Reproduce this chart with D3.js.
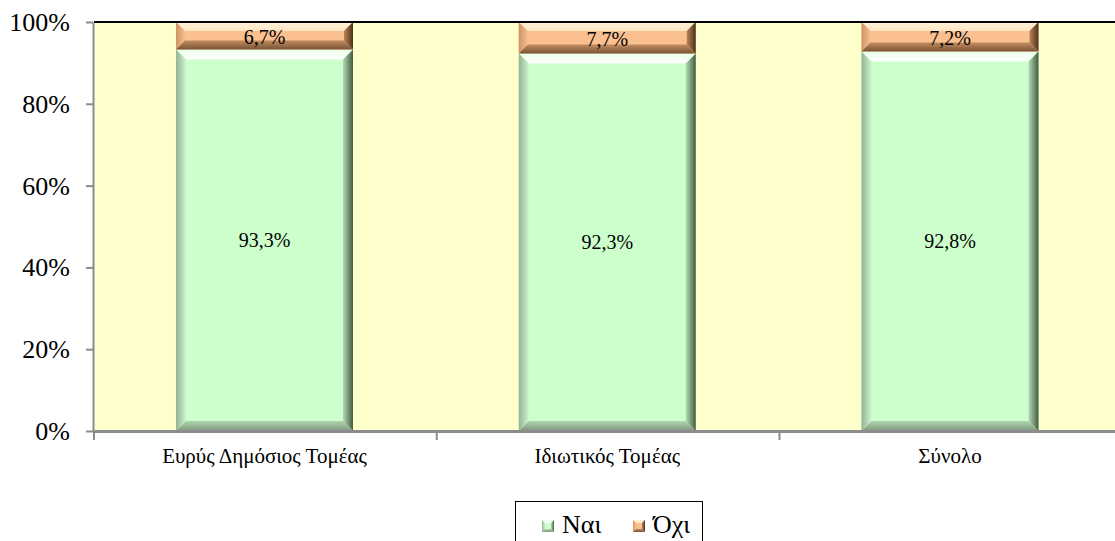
<!DOCTYPE html>
<html><head><meta charset="utf-8">
<script src="https://cdn.jsdelivr.net/npm/d3@7"></script>
<style>body{margin:0;background:#fff}svg{display:block}</style>
</head><body><svg id="c" width="1115" height="541"></svg>
<script>
const categories = ["Ευρύς Δημόσιος Τομέας", "Ιδιωτικός Τομέας", "Σύνολο"];
const nai = [93.3, 92.3, 92.8];
const oxi = [6.7, 7.7, 7.2];
const yTicks = [0, 20, 40, 60, 80, 100];
const seriesNames = ["Ναι", "Όχι"];

const FONT = "'Liberation Serif', 'Times New Roman', serif";
const svg = d3.select("#c");
const W = 1115;
const x = d3.scaleBand().domain(categories).range([94, 1120.5]).paddingInner(0.4836).paddingOuter(0.2392);
const y = d3.scaleLinear().domain([0, 100]).range([431, 22]);

const defs = svg.append("defs");
function lg(id, stops, horiz) {
  const g = defs.append("linearGradient").attr("id", id)
    .attr("x1", 0).attr("y1", 0).attr("x2", horiz ? 1 : 0).attr("y2", horiz ? 0 : 1);
  stops.forEach(s => g.append("stop").attr("offset", s[0]).attr("stop-color", s[1]));
}
const pal = {
  nai: {face: "#CCFFCC", top: ["#ffffff", "#eaffea"], left: ["#94b294", "#cdf5cd"], right: ["#b4dcb4", "#415a41"], bottom: ["#b0d4b0", "#7f987f"]},
  oxi: {face: "#FAC090", top: ["#ffe4c2", "#fff2da"], left: ["#cf9466", "#f7be8e"], right: ["#b98456", "#4d301b"], bottom: ["#c28c60", "#7a5436"]}
};
Object.entries(pal).forEach(([k, p]) => {
  lg(k + "-top", [[0, p.top[1]], [1, p.top[0]]], false);
  lg(k + "-left", [[0, p.left[0]], [1, p.left[1]]], true);
  lg(k + "-right", [[0, p.right[0]], [1, p.right[1]]], true);
  lg(k + "-bottom", [[0, p.bottom[0]], [1, p.bottom[1]]], false);
});

// plot background
svg.append("rect").attr("x", 94).attr("y", y(100)).attr("width", W - 94).attr("height", y(0) - y(100)).attr("fill", "#FFFFCC");

function bevel(g, key, x0, y0, w, h, bsz) {
  const b = Math.min(bsz, h / 3);
  const x1 = x0 + w, y1 = y0 + h;
  g.append("rect").attr("x", x0).attr("y", y0).attr("width", w).attr("height", h).attr("fill", pal[key].face);
  const poly = (pts, fill) => g.append("polygon").attr("points", pts.map(p => p.join(",")).join(" ")).attr("fill", fill);
  poly([[x0, y0], [x1, y0], [x1 - b, y0 + b], [x0 + b, y0 + b]], `url(#${key}-top)`);
  poly([[x0, y0], [x0 + b, y0 + b], [x0 + b, y1 - b], [x0, y1]], `url(#${key}-left)`);
  poly([[x1, y0], [x1, y1], [x1 - b, y1 - b], [x1 - b, y0 + b]], `url(#${key}-right)`);
  poly([[x0, y1], [x0 + b, y1 - b], [x1 - b, y1 - b], [x1, y1]], `url(#${key}-bottom)`);
}
const fmt = v => d3.format(".1f")(v).replace(".", ",") + "%";

const bars = svg.append("g");
categories.forEach((c, i) => {
  const bx = x(c), bw = x.bandwidth();
  bevel(bars, "nai", bx, y(nai[i]), bw, y(0) - y(nai[i]), 10);
  bevel(bars, "oxi", bx, y(100), bw, y(nai[i]) - y(100), 9);
  bars.append("text").attr("x", bx + bw / 2).attr("y", (y(nai[i]) + y(0)) / 2 + 7)
    .attr("text-anchor", "middle").attr("font-size", 20).style("font-family", FONT).attr("fill", "#000").text(fmt(nai[i]));
  bars.append("text").attr("x", bx + bw / 2).attr("y", (y(100) + y(nai[i])) / 2 + 8)
    .attr("text-anchor", "middle").attr("font-size", 20).style("font-family", FONT).attr("fill", "#000").text(fmt(oxi[i]));
});

// top border
svg.append("line").attr("x1", 94).attr("x2", W).attr("y1", y(100)).attr("y2", y(100)).attr("stroke", "#000").attr("stroke-width", 2);

// y axis
const yAx = svg.append("g").attr("transform", "translate(93,0)")
  .call(d3.axisLeft(y).tickValues(yTicks).tickSize(7).tickSizeOuter(0).tickFormat(d => d + "%"));
yAx.select(".domain").attr("stroke", "#8c8c8c").attr("stroke-width", 2);
yAx.selectAll(".tick line").attr("stroke", "#8c8c8c").attr("stroke-width", 2);
yAx.selectAll(".tick text").attr("font-size", 26).attr("fill", "#000").attr("x", -23).attr("dy", "0.33em")
  .style("font-family", FONT);

// x axis
const xAx = svg.append("g").attr("transform", `translate(0,${y(0)})`)
  .call(d3.axisBottom(x).tickSize(0).tickSizeOuter(0).tickFormat(d => d));
xAx.select(".domain").attr("stroke", "#8c8c8c").attr("stroke-width", 3);
xAx.selectAll(".tick text").attr("font-size", 21).attr("fill", "#000").attr("dy", 0).attr("y", 32)
  .style("font-family", FONT);
// category boundary ticks
const bounds = [0, 1, 2].map(i => x.range()[0] + i * x.step());
svg.append("g").selectAll("line").data(bounds).join("line")
  .attr("x1", d => d).attr("x2", d => d)
  .attr("y1", y(0)).attr("y2", y(0) + 9).attr("stroke", "#8c8c8c").attr("stroke-width", 2);

// legend
const leg = svg.append("g");
leg.append("rect").attr("x", 515.5).attr("y", 501.5).attr("width", 187).attr("height", 50).attr("fill", "#fff").attr("stroke", "#000").attr("stroke-width", 1);
const lx = [542, 633];
seriesNames.forEach((s, i) => {
  const key = i === 0 ? "nai" : "oxi";
  bevel(leg, key, lx[i], 520, 12, 12, 3);
  leg.append("text").attr("x", lx[i] + 20).attr("y", 533).attr("font-size", 26).style("font-family", FONT).attr("fill", "#000").text(s);
});
</script></body></html>
